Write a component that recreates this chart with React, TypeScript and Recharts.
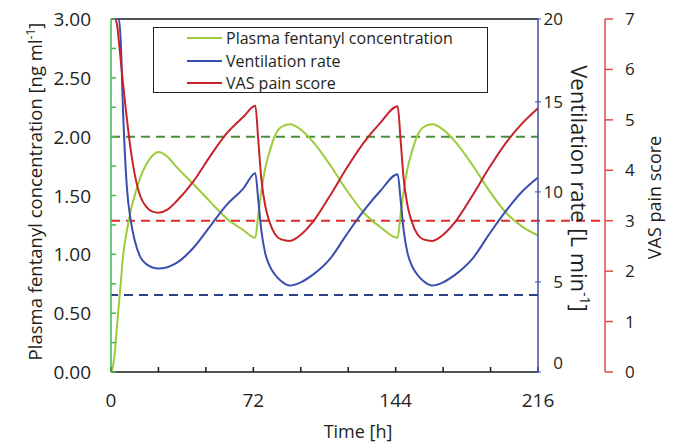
import React from 'react';
import { ComposedChart, Line, XAxis, YAxis, ReferenceLine, Legend } from 'recharts';

// time after start [h]
const timeH = [
  0, 1, 2, 3, 4, 5, 6, 8, 10, 12, 15, 18, 21, 24, 28.5, 33, 41.5, 50, 58.5, 67, 73,
  74.5, 76, 78, 80, 83, 86, 90.5, 96, 102, 111, 119, 127.5, 136, 145,
  146.5, 148, 150, 152, 155, 158, 162.5, 168, 174, 183, 191, 199.5, 208, 216,
];

// plasma fentanyl [ng/ml]
const fentanyl = [
  0, 0.05, 0.18, 0.38, 0.58, 0.77, 0.97, 1.2, 1.37, 1.5, 1.66, 1.77, 1.84, 1.87, 1.83, 1.745, 1.6, 1.45, 1.305, 1.205, 1.14,
  1.34, 1.53, 1.73, 1.86, 2.01, 2.08, 2.105, 2.06, 1.96, 1.755, 1.55, 1.36, 1.235, 1.14,
  1.34, 1.53, 1.73, 1.86, 2.01, 2.08, 2.105, 2.06, 1.96, 1.755, 1.55, 1.36, 1.235, 1.16,
];

// ventilation rate [L/min]
const ventilation = [
  19.6, 19.6, 19.6, 19.6, 19.6, 18.2, 14.8, 10.3, 8.4, 7.3, 6.35, 5.98, 5.8, 5.75, 5.82, 6.04, 6.87, 8.07, 9.28, 10.2, 11.04,
  9.56, 7.9, 6.6, 5.95, 5.4, 5.05, 4.8, 4.98, 5.39, 6.31, 7.6, 8.9, 10.02, 10.98,
  9.56, 7.9, 6.6, 5.95, 5.4, 5.05, 4.8, 4.98, 5.39, 6.31, 7.6, 8.9, 10.02, 10.8,
];

// VAS pain score
const vasScore = [
  7, 7, 7, 6.9, 6.55, 6.15, 5.75, 5.03, 4.4, 3.92, 3.47, 3.27, 3.18, 3.16, 3.22, 3.38, 3.77, 4.27, 4.73, 5.06, 5.28,
  4.6, 3.85, 3.3, 3.0, 2.73, 2.63, 2.6, 2.72, 2.97, 3.51, 4.03, 4.53, 4.93, 5.27,
  4.6, 3.85, 3.3, 3.0, 2.73, 2.63, 2.6, 2.72, 2.97, 3.51, 4.03, 4.53, 4.93, 5.23,
];

const xTicks = [0, 24, 48, 72, 96, 120, 144, 168, 192, 216];
const concTicks = [0, 0.25, 0.5, 0.75, 1, 1.25, 1.5, 1.75, 2, 2.25, 2.5, 2.75, 3];
const ventTicks = [0, 5, 10, 15, 19.6];
const vasTicks = [0, 1, 2, 3, 4, 5, 6, 7];

const concLimit = 2.0;
const ventLimit = 4.28;
const vasLimit = 3;

const data = timeH.map((t, i) => ({ t, conc: fentanyl[i], vent: ventilation[i], vas: vasScore[i] }));

const FONT = '"Open Sans", sans-serif';
const TXT = '#231f20';
const C_CONC = '#9dcb3c';
const C_VENT = '#3a4db0';
const C_VAS = '#c8232b';

const ConcTick = ({ x, y, payload }: any) => {
  const v = payload.value;
  if (Math.abs(v * 2 - Math.round(v * 2)) > 1e-6) return <g />;
  return (
    <text x={x} y={y} dy={7} textAnchor="end" fill={TXT} fontSize={19} fontFamily={FONT}>
      {v.toFixed(2)}
    </text>
  );
};

const TimeTick = ({ x, y, payload }: any) => {
  if (payload.value % 72 !== 0) return <g />;
  return (
    <text x={x} y={y} dy={15} textAnchor="middle" fill={TXT} fontSize={19} fontFamily={FONT}>
      {payload.value}
    </text>
  );
};

const VentTick = ({ x, y, payload }: any) => (
  <g>
    <line x1={x - 8} x2={x - 2} y1={y} y2={y} stroke={C_VENT} strokeWidth={1} />
    <text x={x + 20} y={y} dy={payload.value === 0 ? -3 : 6} textAnchor="end" fill={TXT} fontSize={17} fontFamily={FONT}>
      {Math.round(payload.value)}
    </text>
  </g>
);

const VasTick = ({ x, y, payload }: any) => (
  <text x={x} y={y} dy={6} textAnchor="start" fill={TXT} fontSize={17} fontFamily={FONT}>
    {payload.value}
  </text>
);

const ConcTitle = ({ viewBox }: any) => {
  const cx = viewBox.x + 36;
  const cy = viewBox.y + viewBox.height / 2 - 4;
  return (
    <text transform={`translate(${cx},${cy}) rotate(-90)`} textAnchor="middle" dy={6} fill={TXT} fontSize={18.5} fontFamily={FONT}>
      Plasma fentanyl concentration [ng ml<tspan dy={-7} fontSize={12}>-1</tspan>
      <tspan dy={7}>]</tspan>
    </text>
  );
};

const VentTitle = ({ viewBox }: any) => {
  const cx = viewBox.x + 40;
  const cy = viewBox.y + viewBox.height / 2 - 7;
  return (
    <text transform={`translate(${cx},${cy}) rotate(90)`} textAnchor="middle" dy={7} fill={TXT} fontSize={22} fontFamily={FONT}>
      Ventilation rate [L min<tspan dy={-9} fontSize={14}>-1</tspan>
      <tspan dy={9}>]</tspan>
    </text>
  );
};

const VasTitle = ({ viewBox }: any) => {
  const cx = viewBox.x + 50;
  const cy = viewBox.y + viewBox.height / 2 + 2;
  return (
    <text transform={`translate(${cx},${cy}) rotate(-90)`} textAnchor="middle" dy={6} fill={TXT} fontSize={18} fontFamily={FONT}>
      VAS pain score
    </text>
  );
};

const TimeTitle = ({ viewBox }: any) => (
  <text x={viewBox.x + 247} y={viewBox.y + 66} textAnchor="middle" fill={TXT} fontSize={18} fontFamily={FONT}>
    Time [h]
  </text>
);

const legendItems = [
  { name: 'Plasma fentanyl concentration', color: C_CONC },
  { name: 'Ventilation rate', color: C_VENT },
  { name: 'VAS pain score', color: C_VAS },
];

const LegendBox = () => (
  <div
    style={{
      position: 'relative',
      width: 335,
      height: 66,
      boxSizing: 'border-box',
      border: '1.5px solid #222',
      background: '#fff',
      fontFamily: FONT,
      fontSize: 16,
      color: TXT,
    }}
  >
    {legendItems.map((it, i) => (
      <div key={it.name} style={{ position: 'absolute', left: 33, top: i * 22.5, height: 20, display: 'flex', alignItems: 'center' }}>
        <span style={{ display: 'inline-block', width: 35, height: 2, background: it.color, marginRight: 4 }} />
        <span style={{ whiteSpace: 'nowrap' }}>{it.name}</span>
      </div>
    ))}
  </div>
);

export default function App() {
  return (
    <div style={{ position: 'absolute', left: 0, top: 0, background: '#fff' }}>
      <ComposedChart width={685} height={442} data={data} margin={{ top: 19, right: 0, bottom: 0, left: 0 }}>
        <XAxis
          dataKey="t"
          type="number"
          domain={[0, 216]}
          ticks={xTicks}
          height={70}
          stroke="#1a1a1a"
          strokeWidth={1.5}
          tickSize={-5}
          tickMargin={25}
          tick={TimeTick}
          label={TimeTitle}
        />
        <YAxis
          yAxisId="y1"
          orientation="left"
          width={111}
          domain={[0, 3]}
          ticks={concTicks}
          stroke="#3cbb4f"
          strokeWidth={1.5}
          tickSize={-5}
          tickMargin={25}
          tick={ConcTick}
          label={ConcTitle}
        />
        <YAxis
          yAxisId="y2"
          orientation="right"
          width={67}
          domain={[0, 19.6]}
          ticks={ventTicks}
          stroke="#44509e"
          strokeWidth={1.5}
          tickLine={false}
          tickSize={0}
          tickMargin={5}
          tick={VentTick}
          label={VentTitle}
        />
        <YAxis
          yAxisId="y3"
          orientation="right"
          width={80}
          domain={[0, 7]}
          ticks={vasTicks}
          stroke="#dd4b47"
          strokeWidth={1.5}
          tickSize={8}
          tickMargin={12}
          tick={VasTick}
          label={VasTitle}
        />
        <ReferenceLine yAxisId="y1" y={3} stroke="#1a1a1a" strokeWidth={1.5} />
        <ReferenceLine yAxisId="y1" y={concLimit} stroke="#4b8b3b" strokeWidth={2} strokeDasharray="9 6" />
        <ReferenceLine yAxisId="y2" y={ventLimit} stroke="#2b3f8a" strokeWidth={2} strokeDasharray="9 6" />
        <ReferenceLine
          yAxisId="y3"
          segment={[{ x: 0, y: vasLimit }, { x: 249.9, y: vasLimit }]}
          ifOverflow="visible"
          stroke="#e02a2a"
          strokeWidth={2}
          strokeDasharray="9 6"
        />
        <Line yAxisId="y1" type="monotone" dataKey="conc" stroke={C_CONC} strokeWidth={2} dot={false} isAnimationActive={false} />
        <Line yAxisId="y2" type="monotone" dataKey="vent" stroke={C_VENT} strokeWidth={2} dot={false} isAnimationActive={false} />
        <Line yAxisId="y3" type="monotone" dataKey="vas" stroke={C_VAS} strokeWidth={2} dot={false} isAnimationActive={false} />
        <Legend
          layout="horizontal"
          verticalAlign="middle"
          align="center"
          content={LegendBox}
          wrapperStyle={{ position: 'absolute', left: 153, top: 27, width: 335, height: 66 }}
        />
      </ComposedChart>
    </div>
  );
}
